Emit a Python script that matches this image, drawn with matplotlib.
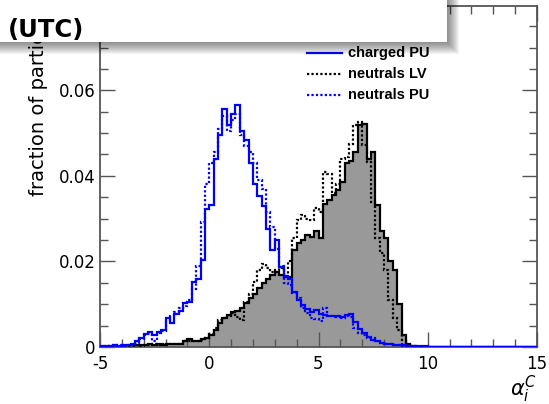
import numpy as np
import matplotlib
matplotlib.use('Agg')
import matplotlib.pyplot as plt
from matplotlib.patches import Rectangle
from matplotlib.lines import Line2D
from matplotlib.ticker import MultipleLocator, FixedLocator

plt.rcParams['font.family'] = 'DejaVu Sans'
plt.rcParams['axes.unicode_minus'] = False

# histogram binning: 100 bins from -5 to 15
x_lo, x_hi, n_bins = -5.0, 15.0, 100

# charged particles, leading vertex (grey filled)
charged_lv = [
    0.0001, 0.0001, 0.0001, 0.0002, 0.0001, 0.0002, 0.0002, 0.0003,
    0.0003, 0.0004, 0.0005, 0.0006, 0.0005, 0.0006, 0.0004, 0.0006,
    0.0007, 0.0006, 0.0008, 0.0015, 0.0018, 0.0014, 0.0015, 0.0018, 0.0022,
    0.0028, 0.0040, 0.0055, 0.0068, 0.0075, 0.0082, 0.0085, 0.0090, 0.0102, 0.0114,
    0.0125, 0.0137, 0.0149, 0.0160, 0.0168, 0.0176, 0.0168, 0.0164, 0.0163, 0.0226,
    0.0242, 0.0250, 0.0261, 0.0258, 0.0270, 0.0255, 0.0335, 0.0343, 0.0355, 0.0366,
    0.0386, 0.0429, 0.0435, 0.0456, 0.0518, 0.0522, 0.0440, 0.0456, 0.0331, 0.0270,
    0.0255, 0.0200, 0.0180, 0.0100, 0.0028, 0.0006, 0.0002, 0.0001, 0.0, 0.0,
    0.0, 0.0, 0.0, 0.0, 0.0, 0.0, 0.0, 0.0, 0.0, 0.0,
    0.0, 0.0, 0.0, 0.0, 0.0, 0.0, 0.0, 0.0, 0.0, 0.0,
    0.0, 0.0, 0.0, 0.0, 0.0,
]

# charged particles, pile-up
charged_pu = [
    0.0002, 0.0002, 0.0003, 0.0004, 0.0003, 0.0005, 0.0004, 0.0006,
    0.0013, 0.0020, 0.0030, 0.0034, 0.0027, 0.0036, 0.0040, 0.0067,
    0.0057, 0.0078, 0.0085, 0.0104, 0.0106, 0.0152, 0.0158, 0.0203, 0.0322,
    0.0331, 0.0440, 0.0495, 0.0557, 0.0520, 0.0545, 0.0565, 0.0505, 0.0483, 0.0430,
    0.0380, 0.0352, 0.0330, 0.0275, 0.0226, 0.0250, 0.0187, 0.0166, 0.0160, 0.0128,
    0.0110, 0.0098, 0.0088, 0.0082, 0.0086, 0.0078, 0.0075, 0.0073, 0.0072, 0.0073,
    0.0070, 0.0075, 0.0076, 0.0058, 0.0043, 0.0032, 0.0024, 0.0016, 0.0013, 0.0010,
    0.0008, 0.0007, 0.0005, 0.0004, 0.0004, 0.0003, 0.0003, 0.0002, 0.0002, 0.0002,
    0.0001, 0.0001, 0.0001, 0.0001, 0.0001, 0.0001, 0.0001, 0.0001, 0.0001, 0.0001,
    0.0001, 0.0001, 0.0001, 0.0001, 0.0001, 0.0001, 0.0001, 0.0001, 0.0001, 0.0001,
    0.0001, 0.0001, 0.0001, 0.0001, 0.0001,
]

# neutral particles, leading vertex
neutrals_lv = [
    0.0001, 0.0001, 0.0002, 0.0001, 0.0002, 0.0002, 0.0003, 0.0002,
    0.0004, 0.0003, 0.0005, 0.0005, 0.0006, 0.0005, 0.0006, 0.0005,
    0.0007, 0.0008, 0.0007, 0.0013, 0.0015, 0.0015, 0.0014, 0.0017, 0.0020,
    0.0030, 0.0045, 0.0062, 0.0068, 0.0073, 0.0080, 0.0070, 0.0062, 0.0105, 0.0125,
    0.0152, 0.0180, 0.0195, 0.0185, 0.0175, 0.0180, 0.0185, 0.0165, 0.0200, 0.0254,
    0.0297, 0.0308, 0.0300, 0.0297, 0.0324, 0.0316, 0.0409, 0.0405, 0.0359, 0.0380,
    0.0440, 0.0445, 0.0475, 0.0518, 0.0525, 0.0472, 0.0432, 0.0339, 0.0254, 0.0220,
    0.0180, 0.0110, 0.0067, 0.0040, 0.0005, 0.0002, 0.0, 0.0, 0.0, 0.0,
    0.0, 0.0, 0.0, 0.0, 0.0, 0.0, 0.0, 0.0, 0.0, 0.0,
    0.0, 0.0, 0.0, 0.0, 0.0, 0.0, 0.0, 0.0, 0.0, 0.0,
    0.0, 0.0, 0.0, 0.0, 0.0,
]

# neutral particles, pile-up
neutrals_pu = [
    0.0002, 0.0003, 0.0002, 0.0004, 0.0004, 0.0003, 0.0005, 0.0005,
    0.0010, 0.0018, 0.0028, 0.0030, 0.0015, 0.0032, 0.0038, 0.0060,
    0.0072, 0.0082, 0.0090, 0.0095, 0.0110, 0.0135, 0.0190, 0.0292, 0.0380,
    0.0430, 0.0455, 0.0510, 0.0540, 0.0505, 0.0530, 0.0545, 0.0495, 0.0470, 0.0455,
    0.0430, 0.0390, 0.0370, 0.0315, 0.0280, 0.0230, 0.0190, 0.0150, 0.0145, 0.0126,
    0.0115, 0.0090, 0.0080, 0.0068, 0.0065, 0.0060, 0.0090, 0.0072, 0.0070, 0.0072,
    0.0068, 0.0072, 0.0070, 0.0045, 0.0032, 0.0028, 0.0022, 0.0022, 0.0015, 0.0010,
    0.0008, 0.0006, 0.0005, 0.0004, 0.0003, 0.0002, 0.0002, 0.0002, 0.0001, 0.0001,
    0.0001, 0.0001, 0.0001, 0.0001, 0.0001, 0.0001, 0.0001, 0.0001, 0.0001, 0.0001,
    0.0001, 0.0001, 0.0001, 0.0001, 0.0001, 0.0001, 0.0001, 0.0001, 0.0001, 0.0001,
    0.0001, 0.0001, 0.0001, 0.0001, 0.0001,
]

legend_labels = ['charged LV', 'charged PU', 'neutrals LV', 'neutrals PU']
x_ticks = [-5, 0, 5, 10, 15]
y_ticks = [0, 0.02, 0.04, 0.06]
y_tick_labels = ['0', '0.02', '0.04', '0.06']

W, H = 549, 404
edges = np.linspace(x_lo, x_hi, n_bins + 1)
blue = '#0000ff'
grey = '#999999'
dotted = (0, (1, 1))

fig = plt.figure(figsize=(W / 100, H / 100), dpi=100)
ax = fig.add_axes([100 / W, 57 / H, 437 / W, 341 / H])

ax.stairs(charged_lv, edges, fill=True, color=grey, zorder=1)
ax.stairs(charged_lv, edges, color='black', lw=1.6, zorder=2)
ax.stairs(neutrals_lv, edges, color='black', lw=1.6, linestyle=dotted, zorder=3)
ax.stairs(charged_pu, edges, color=blue, lw=1.6, zorder=4)
ax.stairs(neutrals_pu, edges, color=blue, lw=1.6, linestyle=dotted, zorder=5)

ax.set_xlim(x_lo, x_hi)
ax.set_ylim(0, 0.0797)

# ROOT style frame: ticks inside on all four sides
for s in ax.spines.values():
    s.set_color('#555555')
    s.set_linewidth(1.3)
ax.xaxis.set_major_locator(FixedLocator(x_ticks))
ax.xaxis.set_minor_locator(MultipleLocator(1))
ax.yaxis.set_major_locator(FixedLocator(y_ticks))
ax.yaxis.set_minor_locator(MultipleLocator(0.005))
ax.set_xticklabels([str(t) for t in x_ticks])
ax.set_yticklabels(y_tick_labels)
ax.tick_params(which='both', direction='in', top=True, right=True, color='#555555', width=1.0)
ax.tick_params(which='major', length=11, labelsize=12)
ax.tick_params(which='minor', length=6)
ax.tick_params(axis='x', pad=6)
ax.tick_params(axis='y', pad=3)

# pixel helpers (from the top-left corner)
def fx(px):
    return px / W

def fy(py):
    return 1 - py / H

box_w, box_h = 447, 42

ylab = ax.set_ylabel('fraction of particles', fontsize=14, loc='top', labelpad=8)
# the overlay box hides the end of the title
ylab.set_clip_box(matplotlib.transforms.Bbox.from_extents(0, 0, W, H - box_h))
ylab.set_clip_on(True)
ax.set_xlabel(r'$\alpha_{i}^{C}$', fontsize=15, loc='right', labelpad=0)

# legend drawn by hand in pixel positions
styles = [
    dict(kind='box'),
    dict(color=blue, ls='-'),
    dict(color='black', ls=dotted),
    dict(color=blue, ls=dotted),
]
for i, (lab, st) in enumerate(zip(legend_labels, styles)):
    yy = 32 + 21 * i
    if st.get('kind') == 'box':
        fig.add_artist(Rectangle((fx(309), fy(yy + 6)), 31 / W, 12 / H, transform=fig.transFigure,
                                 facecolor=grey, edgecolor='black', lw=1.5))
    else:
        fig.add_artist(Line2D([fx(307), fx(342)], [fy(yy), fy(yy)], transform=fig.transFigure,
                              color=st['color'], linestyle=st['ls'], lw=1.6))
    fig.text(fx(348), fy(yy), lab, fontsize=10.5, fontweight='bold', family='Liberation Sans',
             va='center', ha='left')

# overlay box with drop shadow on top of the figure
for d in range(12, 0, -1):
    fig.add_artist(Rectangle((0, fy(box_h + d)), (box_w + d) / W, (box_h + d) / H,
                             transform=fig.transFigure, facecolor='black', edgecolor='none',
                             alpha=0.045, zorder=20))
fig.add_artist(Rectangle((0, fy(box_h)), box_w / W, box_h / H, transform=fig.transFigure,
                         facecolor='white', edgecolor='none', zorder=21))
fig.text(fx(8), fy(37), '(UTC)', fontsize=17.5, fontweight='bold', va='baseline', zorder=22)

fig.savefig('out.png', dpi=100)
